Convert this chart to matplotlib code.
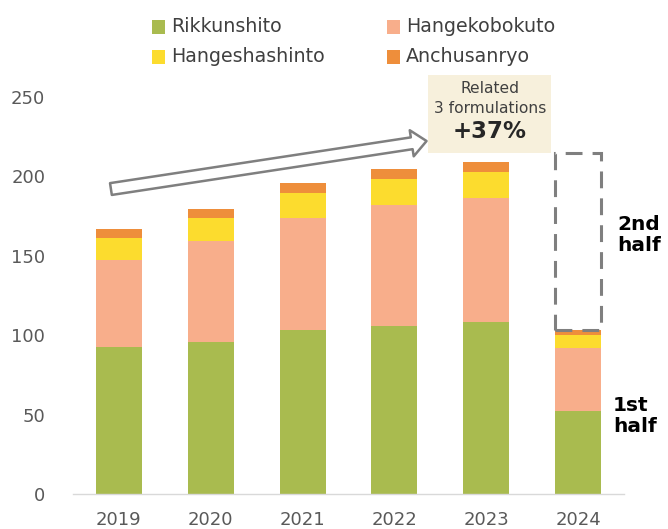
import matplotlib
matplotlib.use("Agg")
import matplotlib.pyplot as plt
from matplotlib.patches import Rectangle, FancyArrowPatch, ArrowStyle

# Sales by formulation (stacked), 2024 = first half only
years = ["2019", "2020", "2021", "2022", "2023", "2024"]
rikkunshito = [92.6, 95.4, 103.1, 105.8, 108.0, 52.4]
hangekobokuto = [54.6, 63.7, 70.3, 76.0, 78.0, 39.2]
hangeshashinto = [13.8, 14.3, 15.7, 16.1, 16.7, 8.4]
anchusanryo = [5.5, 5.7, 6.3, 6.5, 6.3, 3.1]
full_year_2024 = 214.3          # top of the dashed full-year outline
growth_label = "+37%"
series_names = ["Rikkunshito", "Hangekobokuto", "Hangeshashinto", "Anchusanryo"]
colors = ["#a9bb4f", "#f8ae8b", "#fcdc2e", "#ee8e3b"]
yticks = [0, 50, 100, 150, 200, 250]

W, H = 668, 529
fig = plt.figure(figsize=(W / 100, H / 100), dpi=100)
ax = fig.add_axes([73 / W, 1 - 494 / H, 551 / W, 397.5 / H])

x = list(range(len(years)))
series = [rikkunshito, hangekobokuto, hangeshashinto, anchusanryo]
bottom = [0.0] * len(years)
for vals, col in zip(series, colors):
    ax.bar(x, vals, width=0.5, bottom=bottom, color=col, edgecolor="none", zorder=2)
    bottom = [b + v for b, v in zip(bottom, vals)]

ax.set_xlim(-0.5, 5.5)
ax.set_ylim(0, 250)
ax.set_xticks(x)
ax.set_xticklabels(years)
ax.set_yticks(yticks)
ax.tick_params(axis="both", length=0, labelsize=13, labelcolor="#595959")
ax.tick_params(axis="x", pad=12)
ax.tick_params(axis="y", pad=20)
for s in ["top", "right", "left"]:
    ax.spines[s].set_visible(False)
ax.spines["bottom"].set_color("#d9d9d9")
ax.spines["bottom"].set_linewidth(1.0)

# Dashed outline for the expected full-year total of 2024
last = len(years) - 1
first_half_total = bottom[last]
ax.add_patch(Rectangle((last - 0.25, first_half_total), 0.5,
                       full_year_2024 - first_half_total,
                       fill=False, edgecolor="#7f7f7f", linewidth=2.2,
                       linestyle=(0, (5.5, 3.3)), zorder=3, clip_on=False))

# Growth arrow
arrow = FancyArrowPatch((-0.087, 191.8), (3.35, 222.0),
                        arrowstyle=ArrowStyle.Simple(head_length=10.8, head_width=19,
                                                     tail_width=8.6),
                        mutation_scale=1, shrinkA=0, shrinkB=0,
                        facecolor="white", edgecolor="#7f7f7f", linewidth=1.8,
                        zorder=4, clip_on=False)
ax.add_patch(arrow)

# Callout box
ax.add_patch(Rectangle((3.37, 214.5), 1.34, 49.0, facecolor="#f7f0dc",
                       edgecolor="none", zorder=3, clip_on=False))
ax.text(4.04, 254.8, "Related", ha="center", va="center", fontsize=11.2,
        color="#404040", zorder=5, clip_on=False)
ax.text(4.04, 242.5, "3 formulations", ha="center", va="center", fontsize=11.2,
        color="#404040", zorder=5, clip_on=False)
ax.text(4.04, 228.0, growth_label, ha="center", va="center", fontsize=16.5,
        fontweight="bold", color="#262626", zorder=5, clip_on=False)

# Half-year labels
ax.text(5.43, 163, "2nd\nhalf", ha="left", va="center", fontsize=14.5,
        fontweight="bold", color="black", linespacing=1.12, clip_on=False)
ax.text(5.38, 49, "1st\nhalf", ha="left", va="center", fontsize=14.5,
        fontweight="bold", color="black", linespacing=1.15, clip_on=False)

# Legend (two columns, two rows)
def px(xp, yp):
    return xp / W, 1 - yp / H

legend_pos = [(152, 27), (387, 27), (152, 57), (387, 57)]
for name, col, (lx, ly) in zip(series_names, colors, legend_pos):
    fx, fy = px(lx, ly + 7)
    fig.add_artist(Rectangle((fx, fy), 13 / W, 14 / H, transform=fig.transFigure,
                             facecolor=col, edgecolor="none"))
    tx, ty = px(lx + 19, ly)
    fig.text(tx, ty, name, ha="left", va="center", fontsize=13.7, color="#404040")

fig.savefig("out.png", dpi=100)
